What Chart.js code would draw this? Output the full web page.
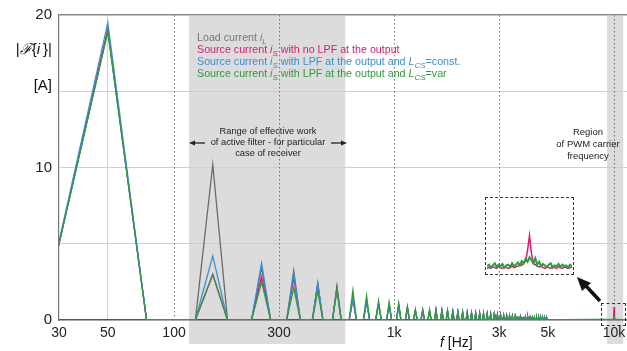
<!DOCTYPE html>
<html>
<head>
<meta charset="utf-8">
<script src="https://cdn.jsdelivr.net/npm/chart.js"></script>
<style>
  body { margin: 0; background: #fff; }
  #wrap { position: relative; width: 627px; height: 351px; font-family: "Liberation Sans", Arial, sans-serif; }
  #wrap .ov { position: absolute; white-space: nowrap; }
  #wrap sub { font-size: 8px; vertical-align: -3px; line-height: 0; font-style: italic; }
  #legend { left: 197px; top: 31px; font-size: 10.7px; line-height: 12px; }
  #rangeTxt { left: 178px; top: 126px; width: 180px; text-align: center; font-size: 9.3px; line-height: 11px; color: #222; }
  #pwmTxt { left: 548px; top: 126px; width: 80px; text-align: center; font-size: 9.5px; line-height: 12px; color: #222; }
  .box { position: absolute; border: 1.5px dashed #333; box-sizing: border-box; }
</style>
</head>
<body>
<div id="wrap">
  <canvas id="main" width="627" height="351"></canvas>

  <div class="ov" style="right:575px; top:39px; font-size:15px; line-height:20px; color:#111;">|<i>&#8497;</i>{<i>i</i>&#8201;}|</div>
  <div class="ov" style="right:575px; top:75px; font-size:15px; line-height:20px; color:#111;">[A]</div>

  <div class="ov" id="legend">
    <div style="color:#777">Load current <i>i</i><sub>L</sub></div>
    <div style="color:#d81b72">Source current <i>i</i><sub>S</sub> with no LPF at the output</div>
    <div style="color:#3b8fd6">Source current <i>i</i><sub>S</sub> with LPF at the output and <i>L</i><sub>CS</sub>=const.</div>
    <div style="color:#2e9b3e">Source current <i>i</i><sub>S</sub> with LPF at the output and <i>L</i><sub>CS</sub>=var</div>
  </div>

  <div class="ov" id="rangeTxt">Range of effective work<br>of active filter - for particular<br>case of receiver</div>
  <div class="ov" id="pwmTxt">Region<br>of PWM carrier<br>frequency</div>

  <div class="ov" style="left:440px; top:334px; font-size:14px; line-height:16px; color:#111;"><i>f</i> [Hz]</div>

  <div class="box" style="left:601px; top:303px; width:25px; height:23px;"></div>
  <div class="box" style="left:485px; top:197px; width:89px; height:78px;"></div>
  <canvas id="inset" width="85" height="73" style="position:absolute; left:487px; top:199px;"></canvas>

  <svg width="627" height="351" style="position:absolute; left:0; top:0; pointer-events:none;">
    <line x1="205" y1="143" x2="193" y2="143" stroke="#222" stroke-width="1.3"/>
    <polygon points="189,143 195,140.5 195,145.5" fill="#222"/>
    <line x1="331" y1="143" x2="343" y2="143" stroke="#222" stroke-width="1.3"/>
    <polygon points="347,143 341,140.5 341,145.5" fill="#222"/>
    <line x1="600" y1="301" x2="586" y2="286" stroke="#111" stroke-width="3.5"/>
    <polygon points="577,277 591,283 582,291" fill="#111"/>
  </svg>
</div>

<script>
// axis settings
var xMin = 30
var xMax = 11450
var xTickValues = [30, 50, 100, 300, 1000, 3000, 5000, 10000, 11450]
var xTickLabels = ['30', '50', '100', '300', '1k', '3k', '5k', '10k', '']
var dottedHz = [100, 300, 1000, 3000, 10000]
var filterBandHz = [117, 600]
var pwmBandHz = [9300, 11000]

// odd harmonics (50 Hz base)
var lowOrderHz  = [50, 150, 250, 350, 450, 550, 650, 750, 850, 950, 1050, 1150, 1250, 1350, 1450]
var loadAmp     = [19.0, 10.2, 3.45, 3.25, 2.35, 2.2, 1.4, 1.2, 1.05, 1.0, 0.95, 0.8, 0.62, 0.62, 0.6]
var noLpfAmp    = [19.1, 3.0, 2.85, 2.75, 2.35, 2.15, 1.4, 1.2, 1.05, 1.0, 0.95, 0.8, 0.62, 0.62, 0.6]
var lpfConstAmp = [19.5, 4.2, 3.72, 3.0, 2.45, 1.95, 1.35, 1.15, 1.0, 0.95, 0.9, 0.78, 0.6, 0.6, 0.58]
var lpfVarAmp   = [18.9, 2.96, 2.5, 2.1, 1.9, 2.0, 1.95, 1.6, 1.28, 1.17, 1.12, 0.9, 0.69, 0.69, 0.68]

// higher harmonics, all four curves lie on top of each other here
var highOrderHz = [1550, 1650, 1750, 1850, 1950, 2050, 2150, 2250, 2350, 2450, 2550, 2650, 2750, 2850, 2950,
                   3050, 3150, 3250, 3350, 3450, 3550, 3650, 3750, 3850, 3950, 4050, 4150, 4250, 4350, 4450,
                   4550, 4650, 4750, 4850, 4950]
var highAmp     = [0.65, 0.62, 0.6, 0.55, 0.52, 0.5, 0.48, 0.46, 0.45, 0.43, 0.42, 0.4, 0.38, 0.36, 0.34,
                   0.32, 0.3, 0.28, 0.27, 0.25, 0.24, 0.22, 0.21, 0.2, 0.19, 0.18, 0.17, 0.16, 0.15, 0.14,
                   0.13, 0.12, 0.11, 0.1, 0.1]

// PWM carrier region
var carrierHz    = [9900, 9950, 10000, 10050, 10100]
var carrierRed   = [0.03, 0.12, 0.85, 0.12, 0.03]
var carrierGreen = [0.06, 0.14, 0.22, 0.12, 0.06]
var carrierNone  = [0, 0, 0, 0, 0]

// magnified view of the carrier
var insetRed   = [0.05, 0.06, 0.05, 0.07, 0.06, 0.05, 0.08, 0.06, 0.05, 0.07, 0.06, 0.05, 0.06, 0.08, 0.06,
                  0.07, 0.08, 0.1, 0.09, 0.12, 0.15, 0.3, 0.5, 0.26, 0.12, 0.1, 0.08, 0.07, 0.09, 0.06,
                  0.05, 0.07, 0.06, 0.05, 0.08, 0.06, 0.05, 0.07, 0.06, 0.05, 0.07, 0.06, 0.05, 0.06, 0.07]
var insetGreen = [0.08, 0.1, 0.06, 0.09, 0.12, 0.07, 0.1, 0.08, 0.11, 0.06, 0.09, 0.1, 0.07, 0.12, 0.08,
                  0.1, 0.13, 0.09, 0.15, 0.12, 0.18, 0.14, 0.2, 0.16, 0.12, 0.19, 0.1, 0.14, 0.08, 0.11,
                  0.09, 0.07, 0.1, 0.12, 0.06, 0.09, 0.08, 0.11, 0.07, 0.1, 0.08, 0.09, 0.06, 0.1, 0.08]

function buildPoints(lowAmp, carrierAmp) {
  var pts = []
  lowOrderHz.forEach(function (f, i) {
    pts.push({x: f - 25, y: 0}, {x: f, y: lowAmp[i]}, {x: f + 25, y: 0})
  })
  highOrderHz.forEach(function (f, i) {
    pts.push({x: f - 25, y: 0}, {x: f, y: highAmp[i]}, {x: f + 25, y: 0})
  })
  carrierHz.forEach(function (f, i) {
    pts.push({x: f, y: carrierAmp[i]})
  })
  pts.push({x: xMax, y: 0})
  return pts
}

// grey bands + dotted vertical lines
var decoPlugin = {
  id: 'deco',
  beforeDraw: function (chart) {
    var ctx = chart.ctx, xs = chart.scales.x, area = chart.chartArea
    ctx.save()
    ctx.fillStyle = '#dcdcdc'
    ;[filterBandHz, pwmBandHz].forEach(function (b) {
      var x1 = xs.getPixelForValue(b[0]), x2 = Math.min(xs.getPixelForValue(b[1]), area.right)
      ctx.fillRect(x1, area.top + 1, x2 - x1, 343 - area.top)
    })
    ctx.restore()
  },
  beforeDatasetsDraw: function (chart) {
    var ctx = chart.ctx, xs = chart.scales.x, area = chart.chartArea
    ctx.save()
    ctx.strokeStyle = '#777'
    ctx.lineWidth = 1
    ctx.setLineDash([1.5, 2.5])
    dottedHz.forEach(function (f) {
      var x = Math.round(xs.getPixelForValue(f)) + 0.5
      ctx.beginPath()
      ctx.moveTo(x, area.top)
      ctx.lineTo(x, area.bottom)
      ctx.stroke()
    })
    ctx.restore()
  }
}

var font = {family: '"Liberation Sans", Arial, sans-serif'}

new Chart(document.getElementById('main'), {
  type: 'line',
  data: {
    datasets: [{
      label: 'Load current',
      data: buildPoints(loadAmp, carrierNone),
      borderColor: '#6a6a6a',
      order: 4
    }, {
      label: 'no LPF',
      data: buildPoints(noLpfAmp, carrierRed),
      borderColor: '#d81b72',
      order: 3
    }, {
      label: 'LPF const',
      data: buildPoints(lpfConstAmp, carrierNone),
      borderColor: '#3b8fd6',
      order: 2
    }, {
      label: 'LPF var',
      data: buildPoints(lpfVarAmp, carrierGreen),
      borderColor: '#2e9b3e',
      order: 1
    }]
  },
  options: {
    responsive: false,
    animation: false,
    devicePixelRatio: 1,
    layout: {padding: {top: 15, right: 0, bottom: 0, left: 0}},
    elements: {
      point: {radius: 0},
      line: {borderWidth: 1.3, tension: 0}
    },
    plugins: {
      legend: {display: false},
      tooltip: {enabled: false}
    },
    scales: {
      x: {
        type: 'logarithmic',
        min: xMin,
        max: xMax,
        afterBuildTicks: function (scale) {
          scale.ticks = xTickValues.map(function (v) { return {value: v} })
        },
        afterFit: function (scale) {
          scale.height = 31
          scale.paddingLeft = 0
          scale.paddingRight = 0
        },
        ticks: {
          autoSkip: false,
          maxRotation: 0,
          padding: 5,
          color: '#222',
          font: {family: font.family, size: 14},
          callback: function (value) {
            var i = xTickValues.indexOf(value)
            return i >= 0 ? xTickLabels[i] : ''
          }
        },
        grid: {
          drawTicks: false,
          color: function (c) {
            return c.tick && c.tick.value === 50 ? '#d0d0d0' : 'rgba(0,0,0,0)'
          }
        },
        border: {color: '#555', width: 1.5}
      },
      y: {
        min: 0,
        max: 20,
        afterFit: function (scale) {
          scale.width = 59
          scale.paddingTop = 0
          scale.paddingBottom = 0
        },
        ticks: {
          stepSize: 5,
          padding: 7,
          color: '#222',
          font: {family: font.family, size: 15},
          callback: function (v) { return v % 10 === 0 ? v : '' }
        },
        grid: {
          drawTicks: false,
          color: function (c) {
            if (!c.tick) return '#cfcfcf'
            if (c.tick.value === 20) return '#8a8a8a'
            if (c.tick.value === 0) return 'rgba(0,0,0,0)'
            return '#cfcfcf'
          },
          lineWidth: function (c) { return c.tick && c.tick.value === 20 ? 1.5 : 1 }
        },
        border: {color: '#777', width: 1.2}
      }
    }
  },
  plugins: [decoPlugin]
})

new Chart(document.getElementById('inset'), {
  type: 'line',
  data: {
    labels: insetGreen.map(function (v, i) { return i }),
    datasets: [{
      data: insetRed,
      borderColor: '#d81b72',
      borderWidth: 1.5,
      order: 2
    }, {
      data: insetGreen,
      borderColor: '#2e9b3e',
      borderWidth: 2,
      order: 1
    }]
  },
  options: {
    responsive: false,
    animation: false,
    devicePixelRatio: 1,
    layout: {padding: 0},
    elements: {point: {radius: 0}, line: {tension: 0}},
    plugins: {legend: {display: false}, tooltip: {enabled: false}},
    scales: {
      x: {display: false},
      y: {display: false, min: 0, max: 1}
    }
  }
})
</script>
</body>
</html>
